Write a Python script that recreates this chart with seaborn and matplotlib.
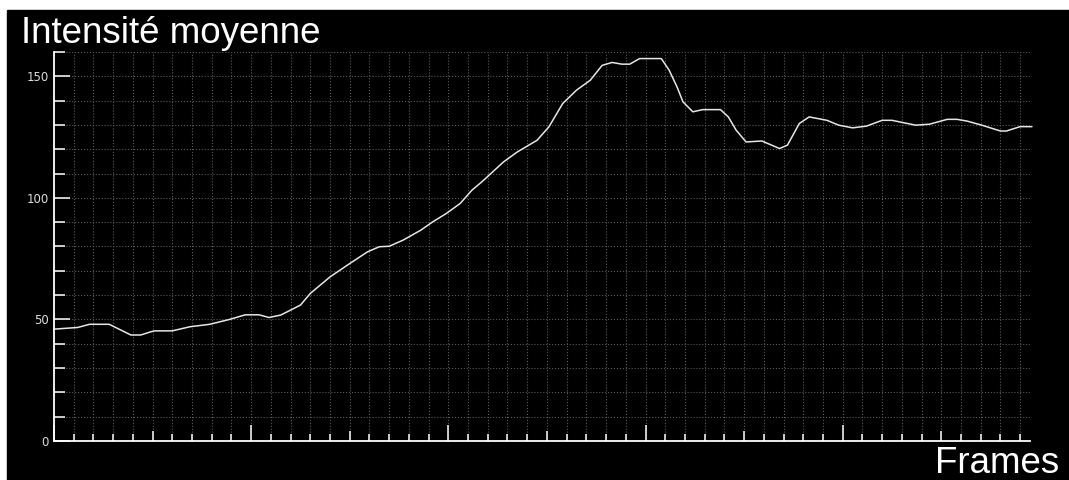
import matplotlib
matplotlib.use("Agg")
import matplotlib.pyplot as plt
from matplotlib.ticker import MultipleLocator
import seaborn as sns
import pandas as pd

# Valeurs (frame, intensité moyenne)
frames = [0, 12, 18, 28, 34, 39, 44, 49, 51, 60, 69, 79, 89, 97, 104, 109, 115,
          125, 130, 140, 150, 159, 165, 170, 177, 186, 192, 199, 206, 212, 217,
          228, 235, 245, 251, 258, 265, 272, 278, 283, 288, 292, 297, 308, 312,
          316, 319, 324, 329, 338, 342, 346, 351, 359, 368, 372, 378, 383, 392,
          398, 405, 412, 420, 425, 437, 444, 453, 458, 463, 471, 480, 483, 490, 496]
intensite = [46.0, 46.7, 48.0, 48.0, 45.6, 43.6, 43.6, 44.9, 45.3, 45.3, 47.0,
             48.0, 50.0, 51.9, 51.9, 50.8, 51.8, 55.9, 60.7, 67.5, 73.0, 77.8,
             79.9, 80.1, 82.6, 86.7, 90.1, 93.6, 97.7, 103.2, 106.6, 114.8, 118.9,
             123.7, 129.2, 138.8, 144.3, 148.4, 154.5, 155.7, 155.0, 155.0, 157.3,
             157.3, 152.5, 145.6, 139.5, 135.4, 136.3, 136.3, 133.3, 127.8, 123.0,
             123.4, 120.3, 121.7, 130.6, 133.3, 131.9, 129.9, 128.8, 129.5, 131.9,
             131.9, 129.9, 130.3, 132.3, 132.3, 131.6, 129.8, 127.5, 127.5, 129.3,
             129.3]
y_labels = [0, 50, 100, 150]

df = pd.DataFrame({"Frame": frames, "Intensite": intensite})

sns.set_theme(style="dark", rc={"axes.facecolor": "black", "figure.facecolor": "white",
                                "axes.edgecolor": "white", "text.color": "white"})
plt.rcParams["font.family"] = ["DejaVu Sans"]

fig = plt.figure(figsize=(10.69, 4.8), dpi=100)
# fond noir avec liseré blanc en haut et à gauche
fig.patches.append(plt.Rectangle((7 / 1069, 0), 1 - 7 / 1069, 1 - 10 / 480,
                                 transform=fig.transFigure, color="black", zorder=-10))

ax = fig.add_axes([54 / 1069, 39 / 480, (1030 - 54) / 1069, (441 - 52) / 480])
ax.set_facecolor("black")

sns.lineplot(data=df, x="Frame", y="Intensite", ax=ax, color="#e6e6e6", linewidth=1.1,
             clip_on=False)

ax.set_xlim(0, 495)
ax.set_ylim(0, 160)

# axes
for s in ["top", "right"]:
    ax.spines[s].set_visible(False)
for s in ["left", "bottom"]:
    ax.spines[s].set_color("white")
    ax.spines[s].set_linewidth(1.3)

ax.yaxis.set_major_locator(MultipleLocator(50))
ax.yaxis.set_minor_locator(MultipleLocator(10))
ax.set_yticks(y_labels)
ax.set_yticklabels([str(v) for v in y_labels])
ax.xaxis.set_major_locator(MultipleLocator(50))
ax.xaxis.set_minor_locator(MultipleLocator(10))
ax.set_xticklabels([])

ax.tick_params(axis="y", which="major", direction="in", length=11.5, width=1.1,
               color="white", labelcolor="#dddddd", labelsize=8.5, pad=4, left=True)
ax.tick_params(axis="y", which="minor", direction="in", length=8, width=1.1,
               color="white", left=True)
ax.tick_params(axis="x", which="major", direction="in", length=7, width=1.1,
               color="white", bottom=True)
ax.tick_params(axis="x", which="minor", direction="in", length=5, width=1.1,
               color="white", bottom=True)

# graduations longues toutes les 100 frames
for pos, tick in zip(ax.get_xticks(), ax.xaxis.get_major_ticks()):
    if pos % 100 == 0:
        tick.tick1line.set_markersize(11.5)

ax.grid(True, which="both", color="#5a5a5a", linestyle=":", linewidth=0.8)
ax.set_axisbelow(True)
ax.set_xlabel("")
ax.set_ylabel("")

fig.text(21 / 1069, 1 - 43 / 480, "Intensité moyenne", fontsize=26.5,
         family=["Liberation Sans", "DejaVu Sans"], color="white", va="baseline", ha="left")
fig.text(935 / 1069, 1 - 473 / 480, "Frames", fontsize=26.5,
         family=["Liberation Sans", "DejaVu Sans"], color="white", va="baseline", ha="left")

fig.savefig("out.png", dpi=100)
